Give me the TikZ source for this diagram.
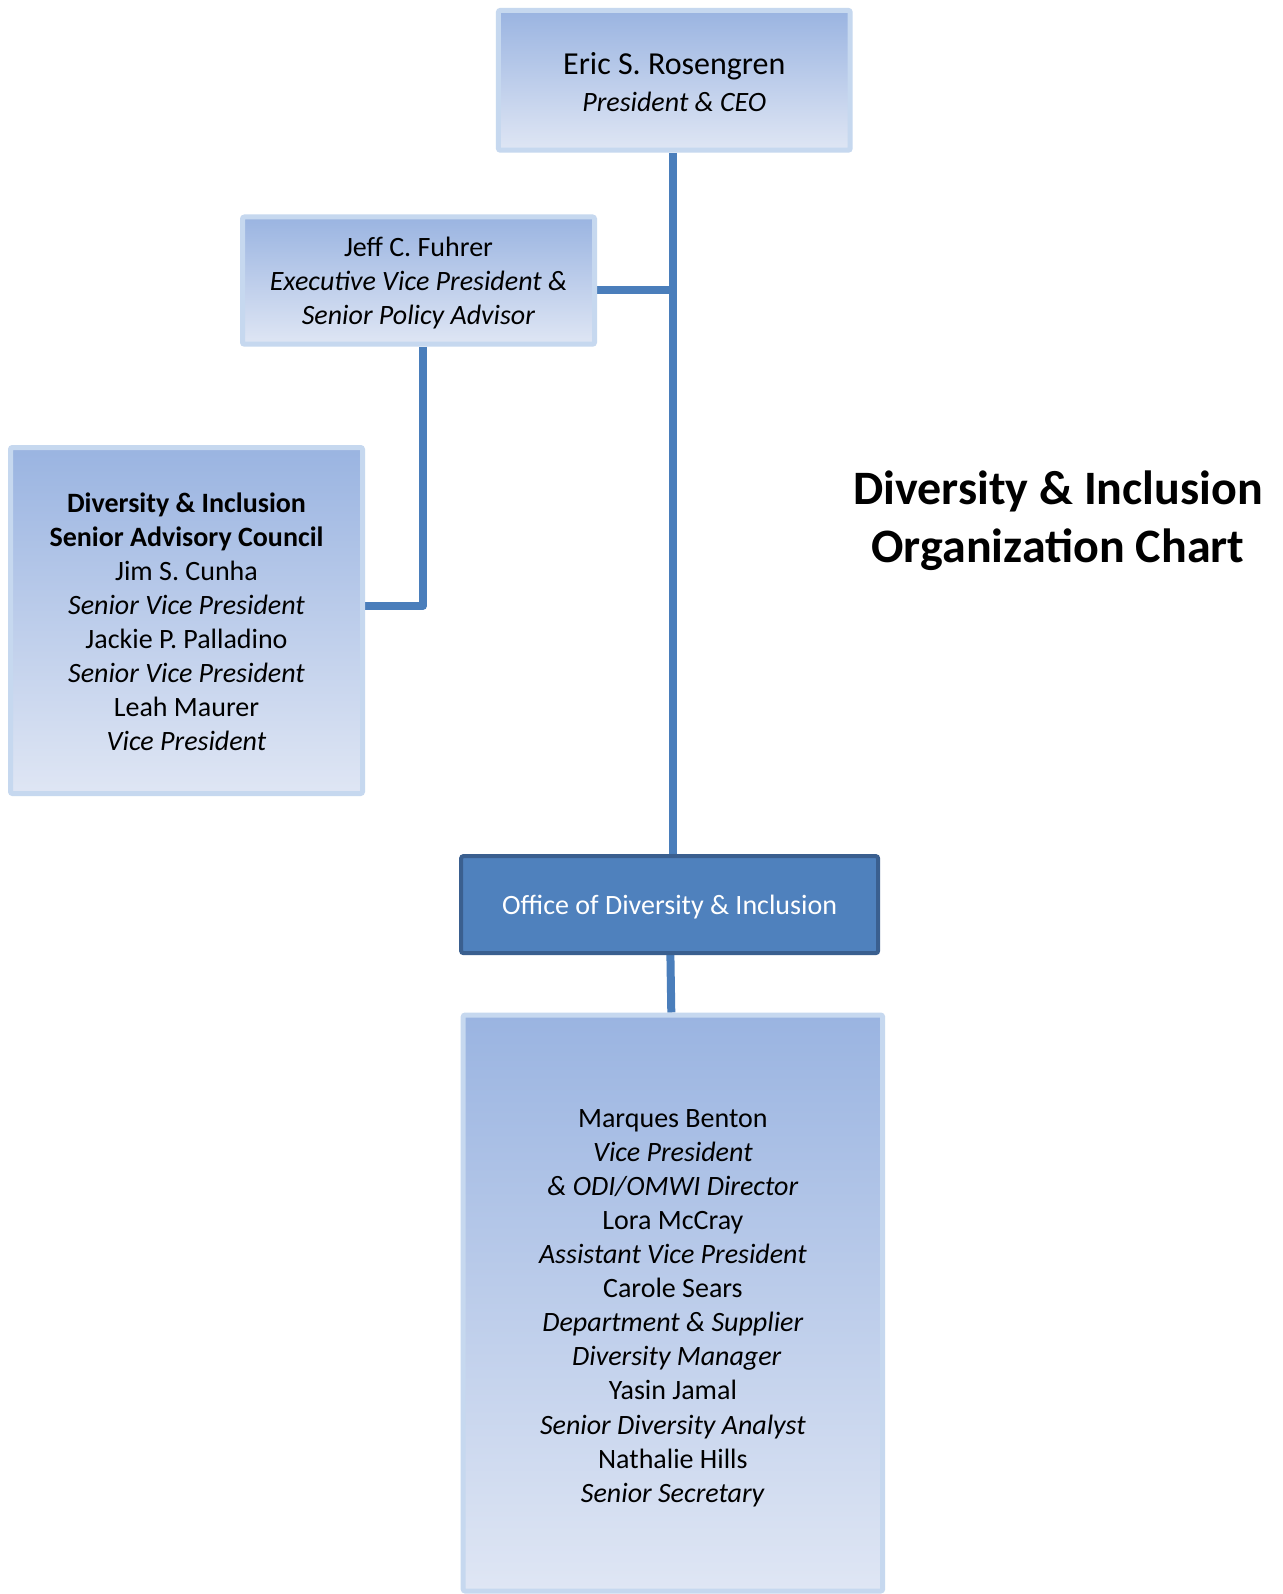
\documentclass[tikz,border=0pt]{standalone}
\usepackage{fontspec}
\setmainfont{Carlito}
\definecolor{boxtop}{HTML}{9AB4E1}
\definecolor{boxbot}{HTML}{DFE6F4}
\definecolor{boxline}{HTML}{C6D8EF}
\definecolor{conn}{HTML}{4A7EBB}
\definecolor{offfill}{HTML}{4F81BD}
\definecolor{offline}{HTML}{3A5F8F}
\pgfdeclarelayer{paper}
\pgfdeclarelayer{links}
\pgfsetlayers{paper,links,main}
\tikzset{
  px/.style={x=0.5pt,y=-0.5pt},
  gbox/.style={draw=boxline, line width=2.5pt, top color=boxtop, bottom color=boxbot,
    rounded corners=1pt, inner sep=0pt},
  boxtext/.style={align=center, inner sep=0pt, text=black, font=\fontsize{14}{17}\selectfont},
  conline/.style={draw=conn, line width=4pt},
  ttl/.style={font=\fontsize{24}{29}\selectfont\bfseries, align=center}
}
\begin{document}
\begin{tikzpicture}[px]
\useasboundingbox (0,0) rectangle (1283,1594);
\begin{pgfonlayer}{paper}
\fill[white] (0,0) rectangle (1283,1594);
\end{pgfonlayer}
% boxes
\node[gbox, minimum width=175.9pt, minimum height=69.9pt] (ceo) at (674.3,80.3) {};
\node[gbox, minimum width=176pt, minimum height=63.6pt] (jeff) at (418.5,280.6) {};
\node[gbox, minimum width=176pt, minimum height=173pt] (council) at (186.5,620.5) {};
\node[draw=offline, line width=2pt, fill=offfill, rounded corners=1pt, minimum width=208.4pt, minimum height=48.4pt,
  inner sep=0pt] (office) at (669.6,904.6) {};
\node[gbox, minimum width=209.7pt, minimum height=288pt] (staff) at (672.9,1303) {};
% connectors (under the boxes)
\coordinate (spine) at (672.7,0);
\begin{pgfonlayer}{links}
\draw[conline] (ceo.south -| spine) -- (office.north -| spine);
\draw[conline] ([yshift=-4.6pt]jeff.east) -- ([yshift=-4.6pt]jeff.east -| spine);
\draw[conline, line join=round] ([xshift=2.2pt]jeff.south) |- ([yshift=7.3pt]council.east);
\draw[conline] ([xshift=0.4pt]office.south) -- ([xshift=-0.8pt]staff.north);
\end{pgfonlayer}
% texts
\node[boxtext, font=\fontsize{14}{18.3}\selectfont] (ceo-t) at ([yshift=-1pt]ceo.center)
  {{\fontsize{16}{18.3}\selectfont Eric S. Rosengren}\\\textit{President \& CEO}};
\node[boxtext] (jeff-t) at ([yshift=-1pt]jeff.center)
  {Jeff C. Fuhrer\\\textit{Executive Vice President \&}\\\textit{Senior Policy Advisor}};
\node[boxtext] (council-t) at ([yshift=-0.5pt]council.center)
  {\textbf{Diversity \& Inclusion}\\\textbf{Senior Advisory Council}\\Jim S. Cunha\\\textit{Senior Vice President}\\Jackie P. Palladino\\\textit{Senior Vice President}\\Leah Maurer\\\textit{Vice President}};
\node[boxtext, text=white] (office-t) at ([yshift=-1pt]office.center) {Office of Diversity \& Inclusion};
\node[boxtext, font=\fontsize{14}{17.05}\selectfont] (staff-t) at ([yshift=-2.5pt]staff.center)
  {Marques Benton\\\textit{Vice President}\\\textit{\& ODI/OMWI Director}\\Lora McCray\\\textit{Assistant Vice President}\\Carole Sears\\\textit{Department \& Supplier}\\\hspace*{4pt}\textit{Diversity Manager}\\Yasin Jamal\\\textit{Senior Diversity Analyst}\\Nathalie Hills\\\textit{Senior Secretary}};
\node[ttl] (title) at (1058,521) {Diversity \& Inclusion\\Organization Chart};
\end{tikzpicture}
\end{document}
